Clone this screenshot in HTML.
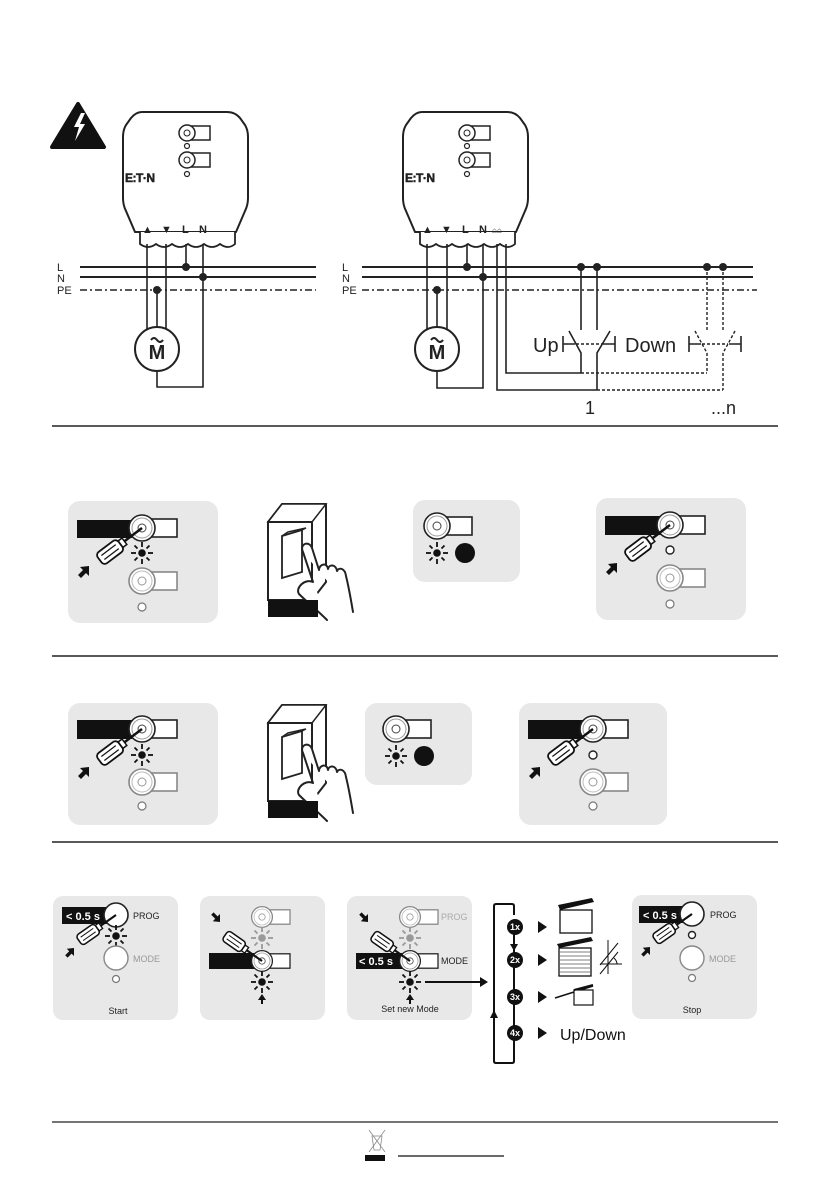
<!DOCTYPE html>
<html><head><meta charset="utf-8"><style>
html,body{margin:0;padding:0;background:#fff;}
svg{display:block;font-family:"Liberation Sans",sans-serif;}
</style></head><body>
<svg width="838" height="1195" viewBox="0 0 838 1195" xmlns="http://www.w3.org/2000/svg">
<defs>
  <g id="module">
    <path d="M142,112 L227,112 Q235,112 240,118 L245,125 Q248,130 248,137 L248,198 Q248,205 245,211 L236,232 L135,232 L126,211 Q123,205 123,198 L123,137 Q123,130 126,125 L131,118 Q136,112 142,112 Z" fill="#fff" stroke="#222" stroke-width="2" stroke-linejoin="round"/>
    <path d="M140,232 L140,244 Q148,250 156,244 Q164,250 172,244 Q180,250 188,244 Q196,250 204,244 Q212,250 220,244 Q228,250 235,244 L235,232" fill="#fff" stroke="#222" stroke-width="1.8"/>
    <rect x="187" y="126" width="23" height="14" fill="#fff" stroke="#222" stroke-width="1.5"/>
    <circle cx="187" cy="133" r="8" fill="#fff" stroke="#222" stroke-width="1.5"/>
    <circle cx="187" cy="133" r="3" fill="none" stroke="#222" stroke-width="1"/>
    <circle cx="187" cy="146" r="2.5" fill="none" stroke="#222" stroke-width="1.2"/>
    <rect x="187" y="153" width="23" height="14" fill="#fff" stroke="#222" stroke-width="1.5"/>
    <circle cx="187" cy="160" r="8" fill="#fff" stroke="#222" stroke-width="1.5"/>
    <circle cx="187" cy="160" r="3" fill="none" stroke="#222" stroke-width="1"/>
    <circle cx="187" cy="174" r="2.5" fill="none" stroke="#222" stroke-width="1.2"/>
    <text x="125" y="182" font-size="12" font-weight="bold" fill="#222" stroke="#222" stroke-width="0.5" letter-spacing="-0.5">E:T·N</text>
    <text x="142" y="233" font-size="11" font-weight="bold" fill="#222">▲</text>
    <text x="161" y="233" font-size="11" font-weight="bold" fill="#222">▼</text>
    <text x="182" y="233" font-size="11" font-weight="bold" fill="#222">L</text>
    <text x="199" y="233" font-size="11" font-weight="bold" fill="#222">N</text>
  </g>
  <g id="motor">
    <circle cx="0" cy="0" r="22" fill="#fff" stroke="#222" stroke-width="2"/>
    <text x="0" y="10" font-size="20" font-weight="bold" text-anchor="middle" fill="#222">M</text>
    <path d="M-6,-9 q3,-4 6,0 t6,0" fill="none" stroke="#222" stroke-width="2"/>
  </g>
  <g id="star">
    <circle r="3.8" fill="#111"/>
    <g stroke="#111" stroke-width="1.8">
      <line x1="6" y1="0" x2="11" y2="0"/><line x1="-6" y1="0" x2="-11" y2="0"/>
      <line x1="0" y1="6" x2="0" y2="11"/><line x1="0" y1="-6" x2="0" y2="-11"/>
      <line x1="4.5" y1="4.5" x2="7.5" y2="7.5"/><line x1="-4.5" y1="4.5" x2="-7.5" y2="7.5"/>
      <line x1="4.5" y1="-4.5" x2="7.5" y2="-7.5"/><line x1="-4.5" y1="-4.5" x2="-7.5" y2="-7.5"/>
    </g>
  </g>
  <g id="stargray">
    <circle r="3.8" fill="#999"/>
    <g stroke="#999" stroke-width="1.8">
      <line x1="6" y1="0" x2="11" y2="0"/><line x1="-6" y1="0" x2="-11" y2="0"/>
      <line x1="0" y1="6" x2="0" y2="11"/><line x1="0" y1="-6" x2="0" y2="-11"/>
      <line x1="4.5" y1="4.5" x2="7.5" y2="7.5"/><line x1="-4.5" y1="4.5" x2="-7.5" y2="7.5"/>
      <line x1="4.5" y1="-4.5" x2="7.5" y2="-7.5"/><line x1="-4.5" y1="-4.5" x2="-7.5" y2="-7.5"/>
    </g>
  </g>
  <g id="btn">
    <rect x="0" y="-9" width="35" height="18" fill="#fff" stroke="#222" stroke-width="1.6"/>
    <circle r="13" fill="#fff" stroke="#222" stroke-width="1.6"/>
    <circle r="10" fill="none" stroke="#999" stroke-width="1"/>
    <circle r="4" fill="#fff" stroke="#444" stroke-width="1"/>
  </g>
  <g id="btngray">
    <rect x="0" y="-9" width="35" height="18" fill="#fff" stroke="#888" stroke-width="1.6"/>
    <circle r="13" fill="#fff" stroke="#888" stroke-width="1.6"/>
    <circle r="10" fill="none" stroke="#bbb" stroke-width="1"/>
    <circle r="4" fill="#fff" stroke="#999" stroke-width="1"/>
  </g>
  <g id="sd">
    <line x1="0" y1="0" x2="24" y2="0" stroke="#111" stroke-width="2.5"/>
    <rect x="22" y="-4" width="5" height="8" fill="#fff" stroke="#111" stroke-width="1.5"/>
    <rect x="27" y="-7" width="26" height="14" rx="4" fill="#fff" stroke="#111" stroke-width="1.8"/>
    <line x1="31" y1="-2.5" x2="49" y2="-2.5" stroke="#111" stroke-width="1.2"/>
    <line x1="31" y1="2.5" x2="49" y2="2.5" stroke="#111" stroke-width="1.2"/>
  </g>
  <!-- arrow pointing up-right, tip at origin -->
  <g id="arrUR">
    <path d="M0,0 L-9,1 L-6,4 L-11,9 L-8,12 L-3,7 L0,10 Z" fill="#111"/>
  </g>
  <!-- arrow pointing down-right, tip at origin -->
  <g id="arrDR">
    <path d="M0,0 L-9,-1 L-6,-4 L-11,-9 L-8,-12 L-3,-7 L0,-10 Z" fill="#111"/>
  </g>
  <g id="switch">
    <path d="M0,20 L14,2 L58,2 L58,80 L44,98 L0,98 Z" fill="#fff" stroke="#222" stroke-width="2" stroke-linejoin="round"/>
    <path d="M0,20 L14,2 L58,2 L44,20 Z" fill="#fff" stroke="#222" stroke-width="1.5"/>
    <rect x="0" y="20" width="44" height="78" fill="#fff" stroke="#222" stroke-width="2"/>
    <path d="M14,34 L34,28 L34,70 L14,76 Z" fill="#fff" stroke="#222" stroke-width="1.8"/>
    <path d="M14,34 L20,30 L38,26 L34,28" fill="none" stroke="#222" stroke-width="1.5"/>
  </g>
  <g id="hand">
    <path d="M0,0 C-4,-8 6,-12 9,-4 L16,18 C16,12 24,10 25,17 C26,12 33,12 34,19 C36,15 42,16 43,24 C46,36 48,48 50,60 M0,0 L10,30 C2,26 -8,36 -4,42 C4,50 14,58 24,68" fill="#fff" stroke="#222" stroke-width="2" stroke-linejoin="round" stroke-linecap="round"/>
  </g>
</defs>

<!-- ============ TOP WIRING ============ -->
<path d="M78,104 L104,147 L52,147 Z" fill="#111" stroke="#111" stroke-width="4" stroke-linejoin="round"/>
<path d="M81,113 L74,127 L79,127 L75,141 L85,124 L80,124 L85,113 Z" fill="#fff"/>

<use href="#module"/>
<g stroke="#222" stroke-width="2" fill="none">
  <line x1="80" y1="267" x2="316" y2="267"/>
  <line x1="80" y1="277" x2="316" y2="277"/>
</g>
<line x1="80" y1="290" x2="316" y2="290" stroke="#222" stroke-width="1.6" stroke-dasharray="7,3,2,3"/>
<text x="57" y="271" font-size="11" fill="#222">L</text>
<text x="57" y="282" font-size="11" fill="#222">N</text>
<text x="57" y="294" font-size="11" fill="#222">PE</text>
<g stroke="#222" stroke-width="1.6" fill="none">
  <line x1="147" y1="244" x2="147" y2="332"/>
  <line x1="166" y1="244" x2="166" y2="332"/>
  <line x1="186" y1="244" x2="186" y2="267"/>
  <polyline points="203,244 203,387 157,387 157,370"/>
  <line x1="157" y1="290" x2="157" y2="328"/>
</g>
<g fill="#222"><circle cx="186" cy="267" r="4"/><circle cx="203" cy="277" r="4"/><circle cx="157" cy="290" r="4"/></g>
<use href="#motor" x="157" y="349"/>

<use href="#module" x="280"/>
<text x="492" y="233" font-size="8" font-weight="bold" fill="#222">⌂⌂</text>
<g stroke="#222" stroke-width="2" fill="none">
  <line x1="362" y1="267" x2="753" y2="267"/>
  <line x1="362" y1="277" x2="753" y2="277"/>
</g>
<line x1="362" y1="290" x2="757" y2="290" stroke="#222" stroke-width="1.6" stroke-dasharray="7,3,2,3"/>
<text x="342" y="271" font-size="11" fill="#222">L</text>
<text x="342" y="282" font-size="11" fill="#222">N</text>
<text x="342" y="294" font-size="11" fill="#222">PE</text>
<g stroke="#222" stroke-width="1.6" fill="none">
  <line x1="427" y1="244" x2="427" y2="332"/>
  <line x1="447" y1="244" x2="447" y2="332"/>
  <line x1="467" y1="244" x2="467" y2="267"/>
  <polyline points="483,244 483,388 437,388 437,370"/>
  <line x1="437" y1="290" x2="437" y2="328"/>
  <polyline points="497,244 497,390 597,390"/>
  <polyline points="506,244 506,373 581,373"/>
  <line x1="581" y1="267" x2="581" y2="330"/>
  <line x1="597" y1="267" x2="597" y2="330"/>
  <polyline points="569,331 581,353 581,373"/>
  <polyline points="610,331 597,353 597,390"/>
  <path d="M563,336 L563,352 M563,344 L575,344"/>
  <path d="M615,336 L615,352 M615,344 L603,344"/>
  <path d="M689,336 L689,352 M689,344 L701,344"/>
  <path d="M741,336 L741,352 M741,344 L729,344"/>
</g>
<g stroke="#222" stroke-width="1.4" fill="none" stroke-dasharray="3,2">
  <line x1="576" y1="344" x2="602" y2="344"/>
  <line x1="702" y1="344" x2="728" y2="344"/>
  <line x1="707" y1="267" x2="707" y2="330"/>
  <line x1="723" y1="267" x2="723" y2="330"/>
  <polyline points="695,331 707,353 707,373"/>
  <polyline points="735,331 723,353 723,390"/>
  <line x1="581" y1="373" x2="707" y2="373"/>
  <line x1="597" y1="390" x2="723" y2="390"/>
</g>
<g fill="#222"><circle cx="467" cy="267" r="4"/><circle cx="483" cy="277" r="4"/><circle cx="437" cy="290" r="4"/>
<circle cx="581" cy="267" r="4"/><circle cx="597" cy="267" r="4"/><circle cx="707" cy="267" r="4"/><circle cx="723" cy="267" r="4"/></g>
<use href="#motor" x="437" y="349"/>
<text x="533" y="352" font-size="20" fill="#222">Up</text>
<text x="625" y="352" font-size="20" fill="#222">Down</text>
<text x="585" y="414" font-size="18" fill="#222">1</text>
<text x="711" y="414" font-size="18" fill="#222">...n</text>

<g stroke="#222" stroke-width="1.5">
  <line x1="52" y1="426" x2="778" y2="426"/>
  <line x1="52" y1="656" x2="778" y2="656"/>
  <line x1="52" y1="842" x2="778" y2="842"/>
  <line x1="52" y1="1122" x2="778" y2="1122" stroke-width="1.2"/>
</g>

<!-- ============ ROW 2 ============ -->
<rect x="68" y="501" width="150" height="122" rx="12" fill="#e8e8e8"/>
<rect x="77" y="520" width="55" height="18" fill="#111"/>
<use href="#btn" x="142" y="528"/>
<use href="#star" x="142" y="553"/>
<use href="#btngray" x="142" y="581"/>
<circle cx="142" cy="607" r="4" fill="#fff" stroke="#777" stroke-width="1.2"/>
<use href="#sd" transform="translate(142,528) rotate(143)"/>
<use href="#arrUR" x="89" y="566"/>

<use href="#switch" x="268" y="502"/>
<use href="#hand" x="303" y="552"/>
<rect x="268" y="600" width="50" height="17" fill="#111"/>

<rect x="413" y="500" width="107" height="82" rx="12" fill="#e8e8e8"/>
<use href="#btn" x="437" y="526"/>
<use href="#star" x="437" y="553"/>
<circle cx="465" cy="553" r="10" fill="#111"/>

<rect x="596" y="498" width="150" height="122" rx="12" fill="#e8e8e8"/>
<rect x="605" y="516" width="57" height="19" fill="#111"/>
<use href="#btn" x="670" y="525"/>
<circle cx="670" cy="550" r="4" fill="#fff" stroke="#222" stroke-width="1.4"/>
<use href="#btngray" x="670" y="578"/>
<circle cx="670" cy="604" r="4" fill="#fff" stroke="#777" stroke-width="1.2"/>
<use href="#sd" transform="translate(670,525) rotate(143)"/>
<use href="#arrUR" x="617" y="563"/>

<!-- ============ ROW 3 ============ -->
<rect x="68" y="703" width="150" height="122" rx="12" fill="#e8e8e8"/>
<rect x="77" y="720" width="55" height="19" fill="#111"/>
<use href="#btn" x="142" y="729"/>
<use href="#star" x="142" y="755"/>
<use href="#btngray" x="142" y="782"/>
<circle cx="142" cy="806" r="4" fill="#fff" stroke="#777" stroke-width="1.2"/>
<use href="#sd" transform="translate(142,729) rotate(143)"/>
<use href="#arrUR" x="89" y="767"/>

<use href="#switch" x="268" y="703"/>
<use href="#hand" x="303" y="753"/>
<rect x="268" y="801" width="50" height="17" fill="#111"/>

<rect x="365" y="703" width="107" height="82" rx="12" fill="#e8e8e8"/>
<use href="#btn" x="396" y="729"/>
<use href="#star" x="396" y="756"/>
<circle cx="424" cy="756" r="10" fill="#111"/>

<rect x="519" y="703" width="148" height="122" rx="12" fill="#e8e8e8"/>
<rect x="528" y="720" width="55" height="19" fill="#111"/>
<use href="#btn" x="593" y="729"/>
<circle cx="593" cy="755" r="4" fill="#fff" stroke="#222" stroke-width="1.4"/>
<use href="#btngray" x="593" y="782"/>
<circle cx="593" cy="806" r="4" fill="#fff" stroke="#777" stroke-width="1.2"/>
<use href="#sd" transform="translate(593,729) rotate(143)"/>
<use href="#arrUR" x="540" y="767"/>

<!-- ============ ROW 4 ============ -->
<rect x="53" y="896" width="125" height="124" rx="10" fill="#e8e8e8"/>
<rect x="62" y="907" width="48" height="17" fill="#111"/>
<text x="66" y="920" font-size="11" font-weight="bold" fill="#fff">&lt; 0.5 s</text>
<circle cx="116" cy="915" r="12" fill="#fff" stroke="#222" stroke-width="1.6"/>
<text x="133" y="919" font-size="9" fill="#222">PROG</text>
<use href="#star" x="116" y="936"/>
<circle cx="116" cy="958" r="12" fill="#fff" stroke="#888" stroke-width="1.4"/>
<text x="133" y="962" font-size="9" fill="#999">MODE</text>
<circle cx="116" cy="979" r="3.5" fill="#fff" stroke="#777" stroke-width="1.2"/>
<text x="118" y="1014" font-size="9" text-anchor="middle" fill="#222">Start</text>
<use href="#sd" transform="translate(116,915) scale(0.85) rotate(145)"/>
<use href="#arrUR" transform="translate(74,948) scale(0.8)"/>

<rect x="200" y="896" width="125" height="124" rx="10" fill="#e8e8e8"/>
<use href="#btngray" transform="translate(262,917) scale(0.8)"/>
<use href="#stargray" x="262" y="938"/>
<rect x="209" y="953" width="50" height="16" fill="#111"/>
<use href="#btn" transform="translate(262,961) scale(0.8)"/>
<use href="#star" x="262" y="982"/>
<path d="M262,994 l-4,6 h3 v4 h2 v-4 h3 z" fill="#111"/>
<use href="#sd" transform="translate(262,961) scale(0.85) rotate(-145)"/>
<use href="#arrDR" transform="translate(220,922) scale(0.8)"/>

<rect x="347" y="896" width="125" height="124" rx="10" fill="#e8e8e8"/>
<use href="#btngray" transform="translate(410,917) scale(0.8)"/>
<text x="441" y="920" font-size="9" fill="#aaa">PROG</text>
<use href="#stargray" x="410" y="938"/>
<rect x="356" y="953" width="50" height="16" fill="#111"/>
<text x="359" y="965" font-size="11" font-weight="bold" fill="#fff">&lt; 0.5 s</text>
<use href="#btn" transform="translate(410,961) scale(0.8)"/>
<text x="441" y="964" font-size="9" fill="#222">MODE</text>
<use href="#star" x="410" y="982"/>
<path d="M410,994 l-4,6 h3 v4 h2 v-4 h3 z" fill="#111"/>
<text x="410" y="1012" font-size="9" text-anchor="middle" fill="#222">Set new Mode</text>
<use href="#sd" transform="translate(410,961) scale(0.85) rotate(-145)"/>
<use href="#arrDR" transform="translate(368,922) scale(0.8)"/>
<line x1="425" y1="982" x2="480" y2="982" stroke="#111" stroke-width="2"/>
<path d="M480,977 L488,982 L480,987 Z" fill="#111"/>

<path d="M514,915 L514,906 Q514,904 512,904 L496,904 Q494,904 494,906 L494,1061 Q494,1063 496,1063 L512,1063 Q514,1063 514,1061 L514,1033 M514,927 L514,1033" fill="none" stroke="#111" stroke-width="2"/>
<path d="M510,944 L518,944 L514,951 Z" fill="#111"/>
<path d="M490,1018 L498,1018 L494,1010 Z" fill="#111"/>
<g font-size="9" font-weight="bold" fill="#fff" text-anchor="middle">
  <circle cx="515" cy="927" r="8" fill="#111"/><text x="515" y="930">1x</text>
  <circle cx="515" cy="960" r="8" fill="#111"/><text x="515" y="963">2x</text>
  <circle cx="515" cy="997" r="8" fill="#111"/><text x="515" y="1000">3x</text>
  <circle cx="515" cy="1033" r="8" fill="#111"/><text x="515" y="1036">4x</text>
</g>
<g fill="#111">
  <path d="M538,921 L547,927 L538,933 Z"/>
  <path d="M538,954 L547,960 L538,966 Z"/>
  <path d="M538,991 L547,997 L538,1003 Z"/>
  <path d="M538,1027 L547,1033 L538,1039 Z"/>
</g>
<path d="M558,905 L592,898 L594,902 L560,910 Z" fill="#111"/>
<rect x="560" y="910" width="32" height="23" fill="#fff" stroke="#111" stroke-width="1.3"/>
<path d="M557,944 L591,937 L593,941 L559,948 Z" fill="#111"/>
<rect x="559" y="948" width="32" height="28" fill="#fff" stroke="#111" stroke-width="1.3"/>
<g stroke="#555" stroke-width="0.7"><line x1="560" y1="952" x2="590" y2="952"/><line x1="560" y1="956" x2="590" y2="956"/><line x1="560" y1="960" x2="590" y2="960"/><line x1="560" y1="964" x2="590" y2="964"/><line x1="560" y1="968" x2="590" y2="968"/><line x1="560" y1="972" x2="590" y2="972"/></g>
<g stroke="#111" stroke-width="1" fill="none"><line x1="608" y1="940" x2="608" y2="974"/><line x1="600" y1="965" x2="618" y2="943"/><line x1="600" y1="974" x2="618" y2="952"/><line x1="600" y1="964" x2="622" y2="964"/><path d="M614,958 q3,3 3,6"/></g>
<path d="M555,998 L593,986" stroke="#111" stroke-width="1.5"/>
<rect x="574" y="990" width="19" height="15" fill="#fff" stroke="#111" stroke-width="1.2"/>
<path d="M574,990 L593,985" stroke="#111" stroke-width="2"/>
<text x="560" y="1040" font-size="16" fill="#111">Up/Down</text>

<rect x="632" y="895" width="125" height="124" rx="10" fill="#e8e8e8"/>
<rect x="639" y="906" width="47" height="17" fill="#111"/>
<text x="643" y="919" font-size="11" font-weight="bold" fill="#fff">&lt; 0.5 s</text>
<circle cx="692" cy="914" r="12" fill="#fff" stroke="#222" stroke-width="1.6"/>
<text x="710" y="918" font-size="9" fill="#222">PROG</text>
<circle cx="692" cy="935" r="3.5" fill="#fff" stroke="#222" stroke-width="1.4"/>
<circle cx="692" cy="958" r="12" fill="#fff" stroke="#888" stroke-width="1.4"/>
<text x="709" y="962" font-size="9" fill="#999">MODE</text>
<circle cx="692" cy="978" r="3.5" fill="#fff" stroke="#777" stroke-width="1.2"/>
<text x="692" y="1013" font-size="9" text-anchor="middle" fill="#222">Stop</text>
<use href="#sd" transform="translate(692,914) scale(0.85) rotate(145)"/>
<use href="#arrUR" transform="translate(650,947) scale(0.8)"/>

<g stroke="#888" stroke-width="0.8" fill="none">
  <path d="M369,1130 L385,1152 M385,1130 L369,1152"/>
  <path d="M372,1136 L382,1136 L380,1150 L374,1150 Z"/>
</g>
<rect x="365" y="1155" width="20" height="6" fill="#111"/>
<line x1="398" y1="1156" x2="504" y2="1156" stroke="#111" stroke-width="1.2"/>
</svg>
</body></html>
